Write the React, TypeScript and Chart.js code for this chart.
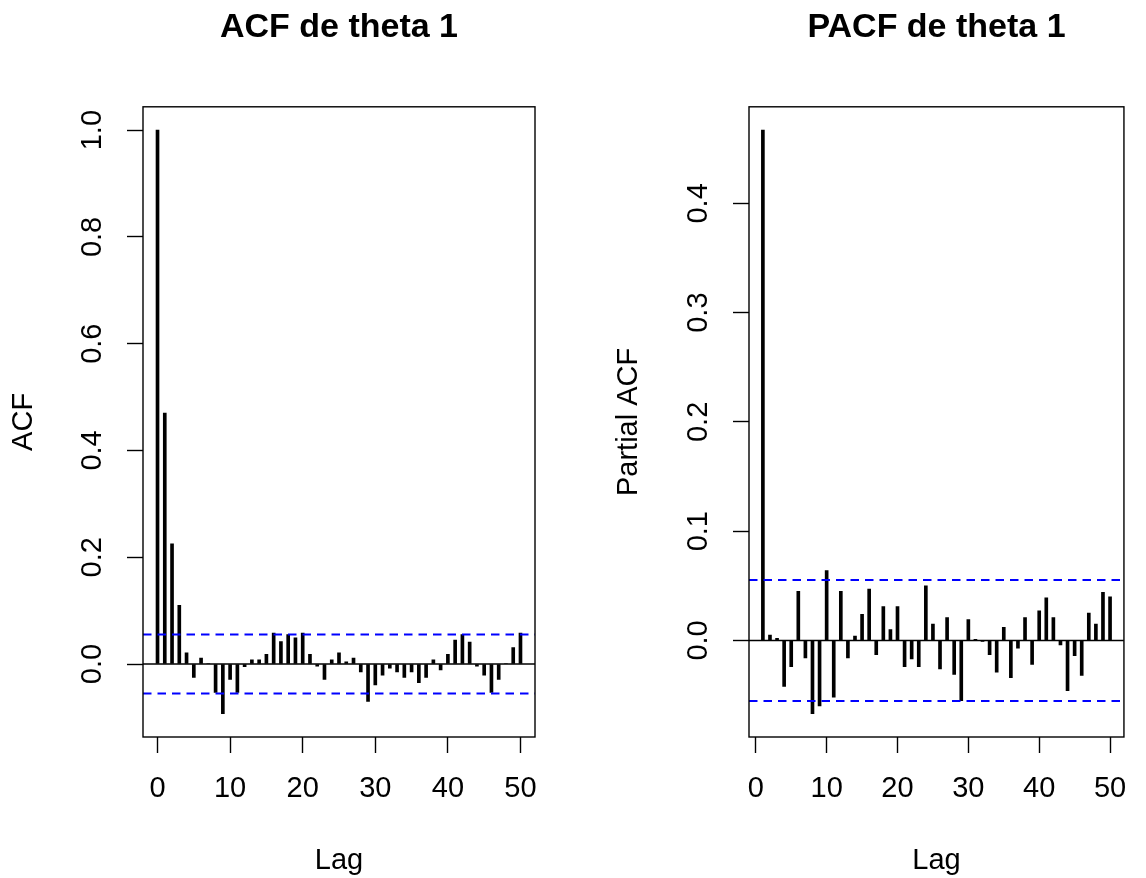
import { useEffect, useRef } from "react";
import { Chart, registerables } from "chart.js";

Chart.register(...registerables);

const FONT = '"Liberation Sans", Arial, Helvetica, sans-serif';

// Autocorrelation of theta 1, lags 0..50
const acfLags = [
  0, 1, 2, 3, 4, 5, 6, 7, 8, 9, 10, 11, 12, 13, 14, 15, 16, 17, 18, 19, 20,
  21, 22, 23, 24, 25, 26, 27, 28, 29, 30, 31, 32, 33, 34, 35, 36, 37, 38, 39,
  40, 41, 42, 43, 44, 45, 46, 47, 48, 49, 50,
];
const acfValues = [
  1.0, 0.47, 0.225, 0.11, 0.021, -0.025, 0.011, 0.001, -0.053, -0.093, -0.029,
  -0.053, -0.005, 0.008, 0.008, 0.018, 0.058, 0.042, 0.055, 0.049, 0.058,
  0.018, -0.004, -0.029, 0.008, 0.021, 0.004, 0.011, -0.015, -0.07, -0.039,
  -0.021, -0.008, -0.015, -0.025, -0.015, -0.035, -0.025, 0.008, -0.011,
  0.018, 0.045, 0.055, 0.041, -0.004, -0.021, -0.053, -0.029, 0.001, 0.031,
  0.058,
];

// Partial autocorrelation of theta 1, lags 1..50
const pacfLags = [
  1, 2, 3, 4, 5, 6, 7, 8, 9, 10, 11, 12, 13, 14, 15, 16, 17, 18, 19, 20, 21,
  22, 23, 24, 25, 26, 27, 28, 29, 30, 31, 32, 33, 34, 35, 36, 37, 38, 39, 40,
  41, 42, 43, 44, 45, 46, 47, 48, 49, 50,
];
const pacfValues = [
  0.467, 0.005, 0.002, -0.042, -0.024, 0.045, -0.016, -0.067, -0.06, 0.064,
  -0.052, 0.045, -0.016, 0.004, 0.024, 0.047, -0.013, 0.031, 0.01, 0.031,
  -0.024, -0.017, -0.024, 0.05, 0.015, -0.026, 0.021, -0.031, -0.055, 0.019,
  0.001, -0.001, -0.013, -0.029, 0.012, -0.034, -0.007, 0.021, -0.022, 0.027,
  0.039, 0.021, -0.004, -0.046, -0.014, -0.032, 0.025, 0.015, 0.044, 0.04,
];

// 95% confidence bound, +/- 1.96 / sqrt(n)
const confBound = 0.0554;

const xTicks = [0, 10, 20, 30, 40, 50];
const acfYTicks = [0, 0.2, 0.4, 0.6, 0.8, 1.0];
const acfYTickLabels = ["0.0", "0.2", "0.4", "0.6", "0.8", "1.0"];
const pacfYTicks = [0, 0.1, 0.2, 0.3, 0.4];
const pacfYTickLabels = ["0.0", "0.1", "0.2", "0.3", "0.4"];

// R-style axis range: data range widened by 4% on each side
function extendRange(lo: number, hi: number): [number, number] {
  const d = (hi - lo) * 0.04;
  return [lo - d, hi + d];
}

type PanelProps = {
  title: string;
  yTitle: string;
  lags: number[];
  values: number[];
  yTicks: number[];
  yTickLabels: string[];
  padLeft: number;
  padRight: number;
  yTitlePad: number;
};

function Panel(p: PanelProps) {
  const ref = useRef<HTMLCanvasElement>(null);

  useEffect(() => {
    const [xMin, xMax] = extendRange(Math.min(...p.lags), Math.max(...p.lags));
    const [yMin, yMax] = extendRange(
      Math.min(...p.values, -confBound),
      Math.max(...p.values, confBound)
    );

    const framePlugin = {
      id: "rFrame",
      afterDraw(chart: any) {
        const { ctx, chartArea: a } = chart;
        ctx.save();
        ctx.strokeStyle = "#000";
        ctx.lineWidth = 1.4;
        ctx.strokeRect(a.left, a.top, a.right - a.left, a.bottom - a.top);
        // y tick labels drawn parallel to the axis
        const ys = chart.scales.y;
        ctx.fillStyle = "#000";
        ctx.font = `29px ${FONT}`;
        ctx.textAlign = "center";
        ctx.textBaseline = "middle";
        p.yTicks.forEach((v, i) => {
          const py = ys.getPixelForValue(v);
          ctx.save();
          ctx.translate(a.left - 50, py);
          ctx.rotate(-Math.PI / 2);
          ctx.fillText(p.yTickLabels[i], 0, 0);
          ctx.restore();
        });
        ctx.restore();
      },
    };

    const hLine = (y: number) => [
      { x: xMin, y },
      { x: xMax, y },
    ];

    const tickGrid = {
      display: true,
      drawOnChartArea: false,
      drawTicks: true,
      tickLength: 16,
      tickColor: "#000",
      tickWidth: 1.4,
      offset: false,
    };

    const chart = new Chart(ref.current as HTMLCanvasElement, {
      type: "bar",
      data: {
        datasets: [
          {
            type: "bar",
            data: p.lags.map((x, i) => ({ x, y: p.values[i] })),
            backgroundColor: "#000",
            borderWidth: 0,
            barThickness: 3,
            order: 3,
          } as any,
          {
            type: "line",
            data: hLine(0),
            borderColor: "#000",
            borderWidth: 1.4,
            pointRadius: 0,
            order: 2,
          },
          {
            type: "line",
            data: hLine(confBound),
            borderColor: "#0000ff",
            borderWidth: 2,
            borderDash: [8.5, 6],
            pointRadius: 0,
            order: 1,
          },
          {
            type: "line",
            data: hLine(-confBound),
            borderColor: "#0000ff",
            borderWidth: 2,
            borderDash: [8.5, 6],
            pointRadius: 0,
            order: 1,
          },
        ],
      },
      options: {
        responsive: false,
        animation: false,
        events: [],
        layout: {
          padding: { left: p.padLeft, right: p.padRight, top: 0, bottom: 0 },
        },
        plugins: {
          legend: { display: false },
          tooltip: { enabled: false },
          title: {
            display: true,
            text: p.title,
            fullSize: false,
            color: "#000",
            font: { family: FONT, size: 34, weight: "bold", lineHeight: 1.2 },
            padding: { top: 7, bottom: 59 },
          },
        },
        scales: {
          x: {
            type: "linear",
            min: xMin,
            max: xMax,
            offset: false,
            afterBuildTicks: (s: any) => {
              s.ticks = xTicks.map((v) => ({ value: v }));
            },
            afterFit: (s: any) => {
              s.height = 141;
            },
            grid: tickGrid,
            border: { display: false },
            ticks: {
              color: "#000",
              font: { family: FONT, size: 29 },
              padding: 19,
              maxRotation: 0,
              autoSkip: false,
              callback: (v: any) => String(v),
            },
            title: {
              display: true,
              text: "Lag",
              color: "#000",
              font: { family: FONT, size: 29 },
              padding: { top: 0, bottom: 0 },
            },
          },
          y: {
            type: "linear",
            min: yMin,
            max: yMax,
            afterBuildTicks: (s: any) => {
              s.ticks = p.yTicks.map((v) => ({ value: v }));
            },
            afterFit: (s: any) => {
              s.width = 143;
            },
            grid: tickGrid,
            border: { display: false },
            ticks: { display: false },
            title: {
              display: true,
              text: p.yTitle,
              color: "#000",
              font: { family: FONT, size: 29 },
              padding: { top: p.yTitlePad, bottom: 0 },
            },
          },
        },
      } as any,
      plugins: [framePlugin],
    });

    return () => chart.destroy();
  }, []);

  return (
    <canvas
      ref={ref}
      width={573}
      height={878}
      style={{ display: "block", width: 573, height: 878 }}
    />
  );
}

export default function App() {
  return (
    <div
      style={{
        position: "absolute",
        left: 0,
        top: 0,
        width: 1146,
        height: 878,
        display: "flex",
        background: "#fff",
      }}
    >
      <Panel
        title="ACF de theta 1"
        yTitle="ACF"
        lags={acfLags}
        values={acfValues}
        yTicks={acfYTicks}
        yTickLabels={acfYTickLabels}
        padLeft={0}
        padRight={38}
        yTitlePad={7}
      />
      <Panel
        title="PACF de theta 1"
        yTitle="Partial ACF"
        lags={pacfLags}
        values={pacfValues}
        yTicks={pacfYTicks}
        yTickLabels={pacfYTickLabels}
        padLeft={33}
        padRight={6}
        yTitlePad={6}
      />
    </div>
  );
}
